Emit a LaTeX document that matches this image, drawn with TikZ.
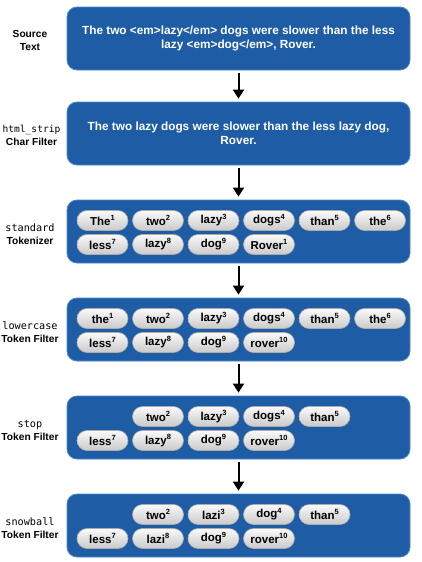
\documentclass[tikz,border=0pt]{standalone}
\usepackage{fontspec}
\setmainfont{Liberation Sans}
\setmonofont{DejaVu Sans Mono}
\usetikzlibrary{arrows.meta}
\definecolor{boxblue}{RGB}{30,92,166}
\definecolor{boxedge}{RGB}{75,135,205}
\newcommand\sps[1]{\raisebox{0.36em}{\fontsize{7.5}{8}\selectfont #1}}
\newcommand\mono[1]{{\mdseries\ttfamily #1}}
\tikzset{
 stage/.style={fill=boxblue, draw=boxedge, line width=0.8pt, rounded corners=10pt,
   minimum width=343pt, minimum height=63pt, inner sep=0pt, text=white,
   font=\bfseries\fontsize{11.8}{13.5}\selectfont, align=center},
 pill/.style={rounded corners=10pt, minimum width=51pt, minimum height=20pt, inner sep=0pt,
   top color=gray!4, bottom color=gray!42, draw=gray!65, line width=0.6pt,
   font=\bfseries\fontsize{11.5}{12}\selectfont},
 lab/.style={font=\bfseries\fontsize{10.2}{13}\selectfont, align=center},
 flow/.style={line width=2pt, -{Triangle[length=9pt,width=11pt]}, shorten <=3pt, shorten >=3pt}
}
\newcommand\tokpill[5]{\node[pill] (#1) at (#2,#3) {#4\sps{#5}};}
\begin{document}
\begin{tikzpicture}[x=1pt,y=-1pt]
\useasboundingbox (0,0) rectangle (421,562);
\fill[white] (0,0) rectangle (421,562);
% stages
\node[stage] (s1) at (238.5,38.5) {The two <em>lazy</em> dogs were slower than the less\\lazy <em>dog</em>, Rover.};
\node[stage] (s2) at (238.5,133.5) {The two lazy dogs were slower than the less lazy dog,\\Rover.};
\node[stage] (s3) at (238.5,231.5) {};
\node[stage] (s4) at (238.5,329.5) {};
\node[stage] (s5) at (238.5,427.5) {};
\node[stage] (s6) at (238.5,525.5) {};
% labels
\node[lab] (l1) at (30,40) {Source\\Text};
\node[lab] (l2) at (31.5,135) {\mono{\fontsize{9.6}{13}\selectfont html\_strip}\\Char Filter};
\node[lab] (l3) at (30,234) {\mono{standard}\\Tokenizer};
\node[lab] (l4) at (30,332) {\mono{lowercase}\\Token Filter};
\node[lab] (l5) at (30,430) {\mono{stop}\\Token Filter};
\node[lab] (l6) at (30,528) {\mono{snowball}\\Token Filter};
% arrows
\draw[flow] (s1) -- (s2);
\draw[flow] (s2) -- (s3);
\draw[flow] (s3) -- (s4);
\draw[flow] (s4) -- (s5);
\draw[flow] (s5) -- (s6);
% standard tokenizer
\tokpill{a1}{102.5}{220.5}{The}{1}
\tokpill{a2}{158}{220.5}{two}{2}
\tokpill{a3}{213.5}{220.5}{lazy}{3}
\tokpill{a4}{269}{220.5}{dogs}{4}
\tokpill{a5}{324.5}{220.5}{than}{5}
\tokpill{a6}{380}{220.5}{the}{6}
\tokpill{a7}{102.5}{244.5}{less}{7}
\tokpill{a8}{158}{244.5}{lazy}{8}
\tokpill{a9}{213.5}{244.5}{dog}{9}
\tokpill{a10}{269}{244.5}{Rover}{1}
% lowercase
\tokpill{b1}{102.5}{318.5}{the}{1}
\tokpill{b2}{158}{318.5}{two}{2}
\tokpill{b3}{213.5}{318.5}{lazy}{3}
\tokpill{b4}{269}{318.5}{dogs}{4}
\tokpill{b5}{324.5}{318.5}{than}{5}
\tokpill{b6}{380}{318.5}{the}{6}
\tokpill{b7}{102.5}{342.5}{less}{7}
\tokpill{b8}{158}{342.5}{lazy}{8}
\tokpill{b9}{213.5}{342.5}{dog}{9}
\tokpill{b10}{269}{342.5}{rover}{10}
% stop
\tokpill{c2}{158}{416.5}{two}{2}
\tokpill{c3}{213.5}{416.5}{lazy}{3}
\tokpill{c4}{269}{416.5}{dogs}{4}
\tokpill{c5}{324.5}{416.5}{than}{5}
\tokpill{c7}{102.5}{440.5}{less}{7}
\tokpill{c8}{158}{440.5}{lazy}{8}
\tokpill{c9}{213.5}{440.5}{dog}{9}
\tokpill{c10}{269}{440.5}{rover}{10}
% snowball
\tokpill{d2}{158}{514.5}{two}{2}
\tokpill{d3}{213.5}{514.5}{lazi}{3}
\tokpill{d4}{269}{514.5}{dog}{4}
\tokpill{d5}{324.5}{514.5}{than}{5}
\tokpill{d7}{102.5}{538.5}{less}{7}
\tokpill{d8}{158}{538.5}{lazi}{8}
\tokpill{d9}{213.5}{538.5}{dog}{9}
\tokpill{d10}{269}{538.5}{rover}{10}
\end{tikzpicture}
\end{document}
